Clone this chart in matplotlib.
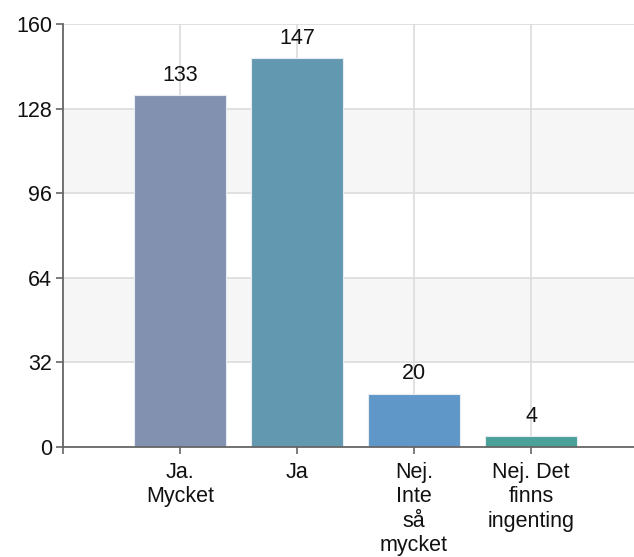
import matplotlib
matplotlib.use("Agg")
import matplotlib.pyplot as plt

categories = ["Ja.\nMycket", "Ja", "Nej.\nInte\nså\nmycket", "Nej. Det\nfinns\ningenting"]
values = [133, 147, 20, 4]
colors = ["#8391b1", "#6299b0", "#5f98c8", "#4aa19a"]
yticks = [0, 32, 64, 96, 128, 160]

plt.rcParams['font.family'] = ['Liberation Sans', 'DejaVu Sans']

fig = plt.figure(figsize=(6.34, 5.57), dpi=100)
ax = fig.add_axes([63/634, 1-447/557, 1-63/634, (447-24)/557])

x = list(range(len(categories)))
# alternating bands
for i in range(len(yticks)-1):
    if i % 2 == 1:
        ax.axhspan(yticks[i], yticks[i+1], color="#f6f6f6", zorder=0, lw=0)
for t in yticks[1:]:
    ax.axhline(t, color="#dcdcdc", lw=1.2, zorder=1)
for xi in x:
    ax.axvline(xi, color="#dcdcdc", lw=1.2, zorder=1)

ax.bar(x, values, width=0.79, color=colors, edgecolor="#e6ecf2", linewidth=0.8, zorder=2)
for xi, v in zip(x, values):
    ax.annotate(str(v), (xi, v), xytext=(0, 7), textcoords="offset points",
                ha="center", va="bottom", fontsize=15.5, color="#111111", zorder=3)

ax.set_xlim(-1, 3.88)
ax.set_ylim(0, 160)
ax.set_yticks(yticks)
ax.set_yticklabels([str(t) for t in yticks], fontsize=15.5, color="#111111")
ax.set_xticks([-1] + x)
ax.set_xticklabels([""] + categories, fontsize=15.5, color="#111111", linespacing=1.2)

for s in ["top", "right"]:
    ax.spines[s].set_visible(False)
for s in ["left", "bottom"]:
    ax.spines[s].set_color("#666666")
    ax.spines[s].set_linewidth(1.3)
    ax.spines[s].set_zorder(4)
ax.tick_params(axis="y", direction="out", length=5, width=1.2, color="#666666", pad=3)
ax.tick_params(axis="x", direction="out", length=5, width=1.2, color="#666666", pad=6)

fig.savefig("out.png", dpi=100)
